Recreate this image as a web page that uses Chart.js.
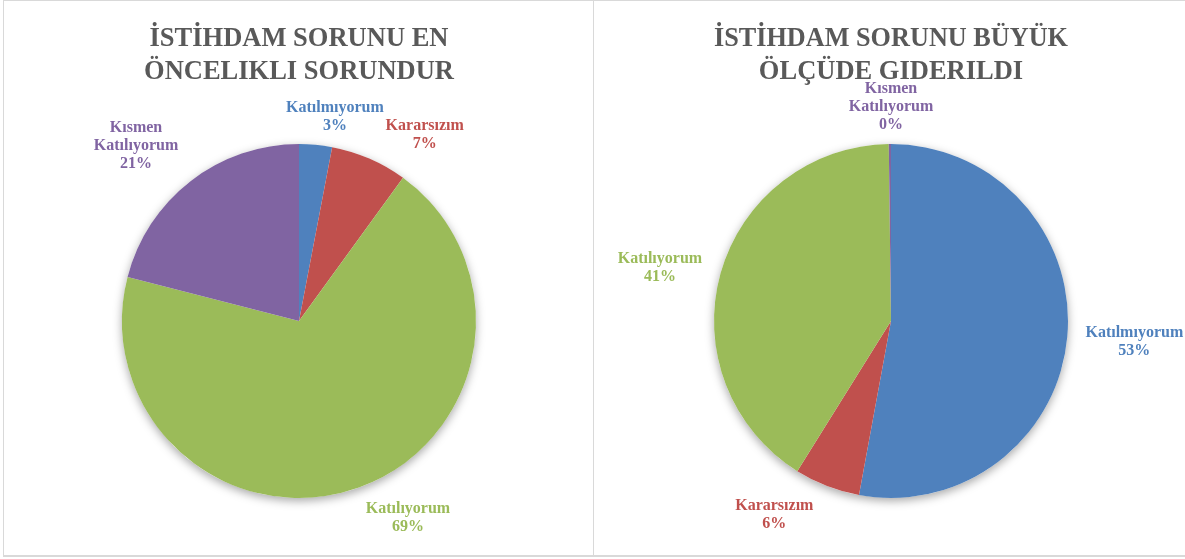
<!DOCTYPE html>
<html lang="tr">

<head>
    <meta charset="UTF-8">
    <title>istihdam</title>
    <script src="https://cdn.jsdelivr.net/npm/chart.js"></script>
    <style>
        body { margin: 0; background: #fff; }
        #page { position: relative; width: 1185px; height: 559px; overflow: hidden; }
        .box { position: absolute; top: 0; height: 557px; box-sizing: border-box; border: 1px solid #d9d9d9; border-bottom-width: 2px; }
        #box1 { left: 3px; width: 591px; }
        #box2 { left: 593px; width: 595px; }
        canvas { position: absolute; top: 2px; }
        #canvas1 { left: 5px; }
        #canvas2 { left: 594px; }
    </style>
</head>

<body>
    <div id="page">
        <div class="box" id="box1"></div>
        <div class="box" id="box2"></div>
        <canvas id="canvas1" width="587" height="553"></canvas>
        <canvas id="canvas2" width="591" height="553"></canvas>
    </div>

    <script>
        // same category order in both charts
        const categories = ["Katılmıyorum", "Kararsızım", "Katılıyorum", "Kısmen Katılıyorum"];
        const labelLines = [["Katılmıyorum"], ["Kararsızım"], ["Katılıyorum"], ["Kısmen", "Katılıyorum"]];

        const leftTitle = ["İSTİHDAM SORUNU EN", "ÖNCELIKLI SORUNDUR"];
        const leftValues = [3, 7, 69, 21];

        const rightTitle = ["İSTİHDAM SORUNU BÜYÜK", "ÖLÇÜDE GIDERILDI"];
        const rightValues = [53, 6, 41, 0.2];

        const sliceColors = ["#4F81BD", "#C0504D", "#9BBB59", "#8064A2"];

        // where each data label sits: angle (deg, clockwise from top) and distance in radii
        const leftLabelAngle = [10, 34, 151, 317];
        const leftLabelDist = [1.17, 1.27, 1.27, 1.35];
        const rightLabelAngle = [95, 211, 283, 0];
        const rightLabelDist = [1.38, 1.28, 1.34, 1.21];

        const serif = "'Liberation Serif', 'Times New Roman', serif";

        // soft shadow under the whole pie
        const pieShadow = {
            id: "pieShadow",
            beforeDatasetsDraw(chart) {
                const arc = chart.getDatasetMeta(0).data[0];
                if (!arc) return;
                const { x, y, outerRadius } = arc.getProps(["x", "y", "outerRadius"], true);
                const ctx = chart.ctx;
                ctx.save();
                ctx.shadowColor = "rgba(0,0,0,0.35)";
                ctx.shadowBlur = 10;
                ctx.shadowOffsetY = 3;
                ctx.fillStyle = "#ffffff";
                ctx.beginPath();
                ctx.arc(x, y, outerRadius, 0, Math.PI * 2);
                ctx.fill();
                ctx.restore();
            }
        };

        const sliceLabels = {
            id: "sliceLabels",
            afterDatasetsDraw(chart, args, opts) {
                const ctx = chart.ctx;
                const meta = chart.getDatasetMeta(0);
                const values = chart.data.datasets[0].data;
                const total = values.reduce((a, b) => a + b, 0);
                ctx.save();
                ctx.font = "bold 16px " + serif;
                ctx.textAlign = "center";
                ctx.textBaseline = "middle";
                meta.data.forEach((arc, i) => {
                    const { x, y, outerRadius } = arc.getProps(["x", "y", "outerRadius"], true);
                    const a = opts.angles[i] * Math.PI / 180;
                    const d = outerRadius * opts.dists[i];
                    const lx = x + Math.sin(a) * d;
                    const ly = y - Math.cos(a) * d;
                    const lines = labelLines[i].concat([Math.round(values[i] / total * 100) + "%"]);
                    const lh = 18;
                    let y0 = ly - (lines.length - 1) * lh / 2;
                    ctx.fillStyle = sliceColors[i];
                    lines.forEach((t, k) => ctx.fillText(t, lx, y0 + k * lh));
                });
                ctx.restore();
            }
        };

        function makePie(canvasId, values, title, angles, dists, padLeft, padRight) {
            const ctx = document.getElementById(canvasId).getContext("2d");
            return new Chart(ctx, {
                type: "pie",
                data: {
                    labels: categories,
                    datasets: [{
                        data: values,
                        backgroundColor: sliceColors,
                        borderWidth: 0
                    }]
                },
                options: {
                    responsive: false,
                    animation: false,
                    layout: {
                        padding: { left: padLeft, right: padRight, top: 8, bottom: 57 }
                    },
                    plugins: {
                        legend: { display: false },
                        tooltip: { enabled: false },
                        title: {
                            display: true,
                            text: title,
                            color: "#595959",
                            font: { family: serif, size: 26.5, weight: "bold", lineHeight: 1.25 },
                            padding: { top: 12.5, bottom: 55.25 }
                        },
                        sliceLabels: { angles: angles, dists: dists }
                    }
                },
                plugins: [pieShadow, sliceLabels]
            });
        }

        makePie("canvas1", leftValues, leftTitle, leftLabelAngle, leftLabelDist, 117, 116);
        makePie("canvas2", rightValues, rightTitle, rightLabelAngle, rightLabelDist, 120, 117);
    </script>
</body>

</html>
